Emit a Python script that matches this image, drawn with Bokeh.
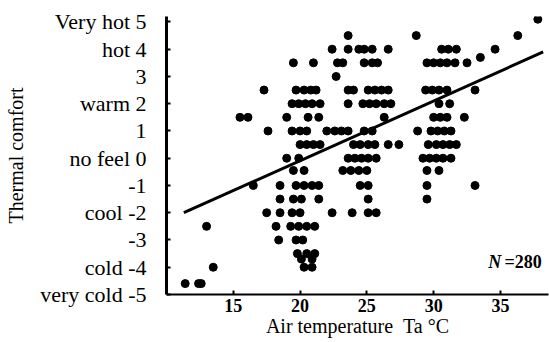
from bokeh.plotting import figure
from bokeh.models import FixedTicker, Label, Range1d
from bokeh.embed import file_html
from bokeh.resources import INLINE

# ---- data ----
rows = {
    5.1: [37.8],
    4.5: [23.6, 28.7, 36.3],
    4.0: [22.4, 23.6, 24.4, 24.8, 25.4, 26.6, 30.6, 31.1, 31.7, 34.6],
    3.7: [33.5],
    3.5: [19.5, 21.0, 22.8, 23.2, 24.8, 25.4, 25.8, 29.5, 30.0, 30.5, 31.0, 31.6, 32.5],
    3.0: [22.7],
    2.5: [17.3, 19.7, 20.3, 20.8, 21.2, 23.6, 24.0, 25.1, 25.6, 26.1, 26.6, 29.4, 29.9, 30.4, 31.0, 33.1],
    2.0: [19.4, 19.9, 20.4, 20.9, 21.5, 23.6, 24.7, 25.2, 25.7, 26.3, 26.8, 30.4, 31.2],
    1.5: [15.5, 16.1, 19.0, 20.6, 21.4, 26.3, 30.0, 30.5, 31.0, 32.3],
    1.0: [17.6, 19.4, 20.0, 20.5, 22.0, 22.6, 23.1, 23.6, 24.8, 25.4, 28.8, 29.8, 30.3, 30.8, 31.3],
    0.5: [20.0, 20.5, 21.0, 21.5, 24.0, 24.5, 25.1, 25.6, 26.6, 27.4, 29.6, 30.2, 30.7, 31.2, 31.7],
    0.0: [19.0, 19.9, 23.6, 24.1, 24.6, 25.1, 25.7, 29.2, 29.7, 30.2, 30.7, 31.3],
    -0.45: [19.5, 20.3, 23.2, 23.8, 24.4, 25.0, 29.5, 30.4],
    -1.0: [16.5, 18.5, 19.7, 20.3, 20.9, 21.4, 24.5, 25.1, 29.5, 33.1],
    -1.5: [18.5, 19.5, 20.1, 21.4, 25.1, 29.5],
    -2.0: [17.5, 18.5, 19.4, 20.0, 22.4, 23.9, 25.1, 25.7],
    -2.5: [13.0, 18.2, 19.3, 19.9, 20.5, 21.1],
    -3.0: [18.4, 19.7, 20.2],
    -3.5: [19.8, 20.5, 21.1],
    -3.7: [20.1, 20.9],
    -4.0: [13.5, 20.3, 20.9],
    -4.6: [11.4, 12.4, 12.6],
}
air_temp = [t for v, ts in rows.items() for t in ts]
thermal_vote = [v for v, ts in rows.items() for t in ts]

fit_x = [11.3, 38.2]
fit_y = [-2.0, 3.9]

x_ticks = [15, 20, 25, 30, 35]
y_ticks = [5, 4, 3, 2, 1, 0, -1, -2, -3, -4, -5]
y_tick_labels = ["Very hot 5", "hot 4", "3", "warm 2", "1", "no feel 0",
                 "-1", "cool -2", "-3", "cold -4", "very cold -5"]

FONT = "Liberation Serif"

p = figure(width=549, height=342, x_range=Range1d(10, 38.6), y_range=Range1d(-5, 5.2),
           output_backend="svg", toolbar_location=None,
           min_border_left=166, min_border_right=1, min_border_top=16, min_border_bottom=48)
p.outline_line_color = None
p.xgrid.visible = False
p.ygrid.visible = False
p.background_fill_color = "white"
p.border_fill_color = "white"

p.scatter(air_temp, thermal_vote, size=8, color="black", marker="circle")
p.line(fit_x, fit_y, line_width=3, color="black")

xa = p.xaxis[0]
xa.ticker = FixedTicker(ticks=x_ticks)
xa.minor_tick_line_color = None
xa.major_tick_in = 4
xa.major_tick_out = 0
xa.major_tick_line_width = 2
xa.major_tick_line_color = "black"
xa.axis_line_width = 2
xa.axis_line_color = "black"
xa.major_label_text_font = FONT
xa.major_label_text_font_style = "bold"
xa.major_label_text_font_size = "18px"
xa.major_label_text_color = "black"
xa.major_label_standoff = 4
xa.axis_label = "Air temperature\u00a0\u00a0Ta \u00b0C"
xa.axis_label_text_font = FONT
xa.axis_label_text_font_style = "normal"
xa.axis_label_text_font_size = "20px"
xa.axis_label_text_color = "black"
xa.axis_label_standoff = 0

ya = p.yaxis[0]
ya.ticker = FixedTicker(ticks=y_ticks)
ya.major_label_overrides = {t: s for t, s in zip(y_ticks, y_tick_labels)}
ya.minor_tick_line_color = None
ya.major_tick_in = 4
ya.major_tick_out = 0
ya.major_tick_line_width = 2
ya.major_tick_line_color = "black"
ya.axis_line_width = 3
ya.axis_line_color = "black"
ya.major_label_text_font = FONT
ya.major_label_text_font_size = "22px"
ya.major_label_text_color = "black"
ya.major_label_standoff = 20
ya.axis_label = "Thermal comfort"
ya.axis_label_text_font = FONT
ya.axis_label_text_font_style = "normal"
ya.axis_label_text_font_size = "20px"
ya.axis_label_text_color = "black"
ya.axis_label_standoff = 10

p.add_layout(Label(x=35.07, y=-3.82, text="N", text_align="right", text_baseline="middle",
                   text_font=FONT, text_font_style="bold italic", text_font_size="18px",
                   text_color="black"))
p.add_layout(Label(x=35.3, y=-3.82, text="=280", text_align="left", text_baseline="middle",
                   text_font=FONT, text_font_style="bold", text_font_size="18px",
                   text_color="black"))

open("out.html", "w").write(file_html(p, INLINE))
